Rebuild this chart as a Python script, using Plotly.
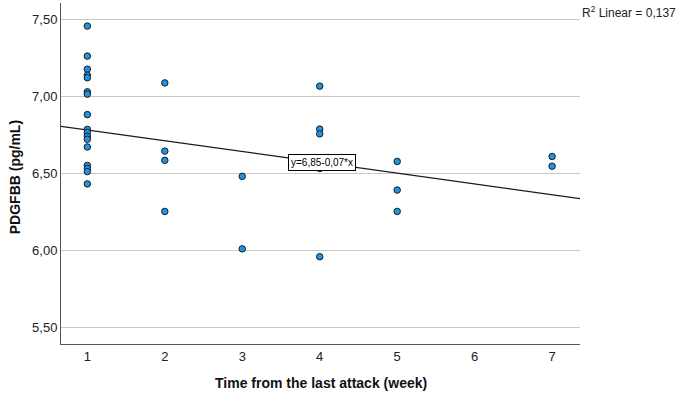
import plotly.graph_objects as go

# Data
week_1 = [7.455, 7.26, 7.175, 7.136, 7.12, 7.028, 7.013, 6.88, 6.784, 6.764, 6.74, 6.72, 6.67, 6.55, 6.53, 6.51, 6.43]
week_2 = [7.086, 6.643, 6.583, 6.251]
week_3 = [6.479, 6.008]
week_4 = [7.065, 6.786, 6.755, 6.53, 5.957]
week_5 = [6.576, 6.39, 6.251]
week_7 = [6.608, 6.545]

weeks = [1, 2, 3, 4, 5, 7]
values = [week_1, week_2, week_3, week_4, week_5, week_7]

x_ticks = [1, 2, 3, 4, 5, 6, 7]
y_ticks = [5.5, 6.0, 6.5, 7.0, 7.5]

fit_intercept = 6.85
fit_slope = -0.07
r_squared = "0,137"

x_range = [0.66, 7.36]
y_range = [5.39, 7.605]

xs, ys = [], []
for w, vals in zip(weeks, values):
    for v in vals:
        xs.append(w)
        ys.append(v)

fig = go.Figure()

fit_x = list(x_range)
fit_y = [fit_intercept + fit_slope * xv for xv in fit_x]
fig.add_trace(go.Scatter(
    x=fit_x, y=fit_y, mode="lines",
    line=dict(color="#1a1a1a", width=1.2),
    hoverinfo="skip", showlegend=False,
))

fig.add_trace(go.Scatter(
    x=xs, y=ys, mode="markers",
    marker=dict(size=6.5, color="#1e94e4", line=dict(color="#1a1a1a", width=1)),
    showlegend=False,
))

fig.add_annotation(
    x=4.03, y=fit_intercept + fit_slope * 4.03,
    xref="x", yref="y",
    text="y=6,85-0,07*x", showarrow=False,
    font=dict(family="Liberation Sans, Arial", size=10, color="#000000"),
    bgcolor="#ffffff", bordercolor="#000000", borderwidth=1, borderpad=2,
)

fig.add_annotation(
    x=1.0, y=7.5, xref="paper", yref="y",
    xanchor="left", yanchor="bottom",
    text="R<sup>2</sup> Linear = " + r_squared, showarrow=False,
    font=dict(family="Liberation Sans, Arial", size=12, color="#222222"),
    yshift=-3, xshift=0,
)

fig.add_annotation(
    x=0.5, y=-0.115, xref="paper", yref="paper",
    xanchor="center", yanchor="middle",
    text="<b>Time from the last attack (week)</b>", showarrow=False,
    font=dict(family="Liberation Sans, Arial", size=14, color="#111111"),
)

fig.add_annotation(
    x=-0.088, y=0.49, xref="paper", yref="paper",
    xanchor="center", yanchor="middle", textangle=-90,
    text="<b>PDGFBB (pg/mL)</b>", showarrow=False,
    font=dict(family="Liberation Sans, Arial", size=14, color="#111111"),
)

fig.update_layout(
    width=685, height=398,
    margin=dict(l=61, r=105, t=3, b=54, autoexpand=False),
    paper_bgcolor="#ffffff", plot_bgcolor="#ffffff",
    separators=",.",
    font=dict(family="Liberation Sans, Arial", size=13, color="#333333"),
    xaxis=dict(
        range=x_range, tickvals=x_ticks, ticktext=[str(t) for t in x_ticks],
        showgrid=False, zeroline=False, automargin=False,
        showline=True, linecolor="#555555", linewidth=1,
        ticks="", ticklen=0,
        tickfont=dict(size=13, color="#222222"),
    ),
    yaxis=dict(
        range=y_range, tickvals=y_ticks, tickformat=".2f",
        showgrid=True, gridcolor="#c8c8c8", gridwidth=1,
        zeroline=False, automargin=False,
        showline=True, linecolor="#555555", linewidth=1,
        ticks="", ticklen=0,
        tickfont=dict(size=13, color="#222222"),
    ),
)

fig.write_html(
    "out.html",
    config={"displayModeBar": False},
    post_script="document.body.style.margin='0';document.body.style.overflow='hidden';",
)
